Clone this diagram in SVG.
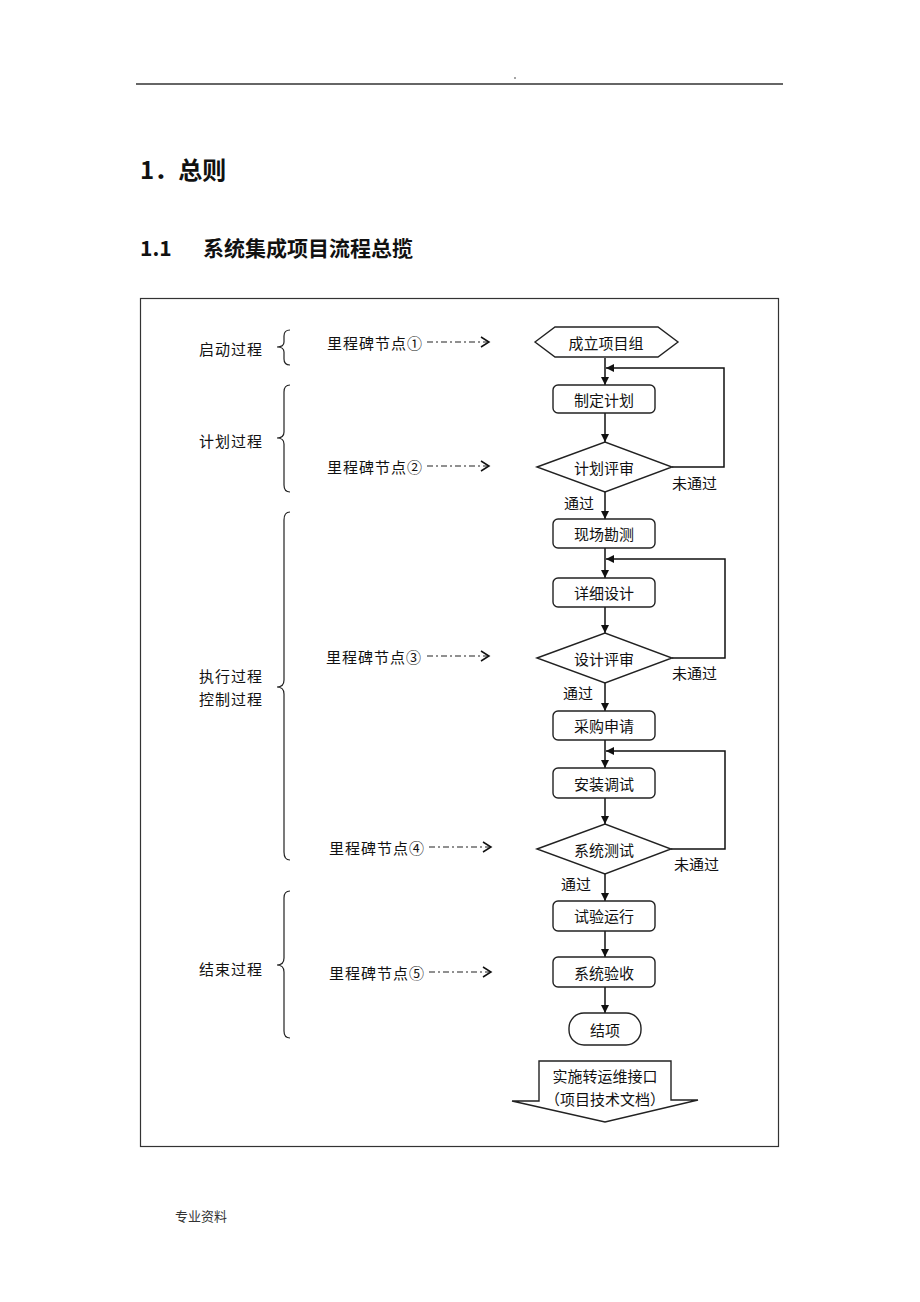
<svg xmlns="http://www.w3.org/2000/svg" width="920" height="1302" viewBox="0 0 920 1302">
<style>
text{font-family:"Noto Sans CJK SC","Noto Sans",sans-serif;fill:#111}
.t{font-size:15px;dominant-baseline:central}
.c{text-anchor:middle}
.shape{fill:#fff;stroke:#222;stroke-width:1.4}
.ln{fill:none;stroke:#111;stroke-width:1.5}
.br{fill:none;stroke:#222;stroke-width:1.2}
.dd{fill:none;stroke:#222;stroke-width:1.2;stroke-dasharray:6 3 2 3}
</style>
<defs>
<marker id="ah" viewBox="0 0 10 10" refX="10" refY="5" markerWidth="8" markerHeight="8" markerUnits="userSpaceOnUse" orient="auto"><path d="M0,0L10,5L0,10z" fill="#111"/></marker>
</defs>
<rect width="920" height="1302" fill="#fff"/>
<line x1="136" y1="84" x2="783" y2="84" stroke="#333" stroke-width="1.5"/>
<circle cx="515" cy="78" r="0.8" fill="#333"/>
<text x="140" y="179" style="font-size:24px;font-weight:bold">1．总则</text>
<text x="140" y="256" style="font-size:21px;font-weight:bold">1.1</text>
<text x="203" y="256" style="font-size:21px;font-weight:bold">系统集成项目流程总揽</text>
<rect x="140.5" y="298.5" width="638" height="848" fill="none" stroke="#333" stroke-width="1.2"/>

<g id="labels">
<text class="t" x="199" y="348" letter-spacing="1">启动过程</text>
<text class="t" x="199" y="440" letter-spacing="1">计划过程</text>
<text class="t" x="199" y="675" letter-spacing="1">执行过程</text>
<text class="t" x="199" y="698" letter-spacing="1">控制过程</text>
<text class="t" x="199" y="968" letter-spacing="1">结束过程</text>
<path class="br" d="M290,330 Q284,330 284,336 L284,342 Q284,347 277,347 Q284,347 284,352 L284,359 Q284,365 290,365"/>
<path class="br" d="M290,385 Q284,385 284,392 L284,432 Q284,438 277,438 Q284,438 284,444 L284,485 Q284,492 290,492"/>
<path class="br" d="M290,512 Q284,512 284,520 L284,680 Q284,687 277,687 Q284,687 284,694 L284,852 Q284,860 290,860"/>
<path class="br" d="M290,891 Q284,891 284,898 L284,958 Q284,965 277,965 Q284,965 284,972 L284,1031 Q284,1038 290,1038"/>
</g>

<g id="milestones">
<text class="t" x="327" y="342" letter-spacing="1">里程碑节点①</text>
<text class="t" x="327" y="466" letter-spacing="1">里程碑节点②</text>
<text class="t" x="326" y="656" letter-spacing="1">里程碑节点③</text>
<text class="t" x="329" y="847" letter-spacing="1">里程碑节点④</text>
<text class="t" x="329" y="972" letter-spacing="1">里程碑节点⑤</text>
<path class="dd" d="M427,342H488M427,466H488M427,656H488M429,847H490M429,972H490"/>
<path class="ln" d="M481,337L489,342L481,347M481,461L489,466L481,471M481,651L489,656L481,661M483,842L491,847L483,852M483,967L491,972L483,977" stroke-width="1.3"/>
</g>

<g id="connectors">
<path class="ln" marker-end="url(#ah)" d="M605,358V385"/>
<path class="ln" marker-end="url(#ah)" d="M605,413V442"/>
<path class="ln" marker-end="url(#ah)" d="M605,492V519"/>
<path class="ln" marker-end="url(#ah)" d="M605,548V578"/>
<path class="ln" marker-end="url(#ah)" d="M605,607V633"/>
<path class="ln" marker-end="url(#ah)" d="M605,683V711"/>
<path class="ln" marker-end="url(#ah)" d="M605,740V768"/>
<path class="ln" marker-end="url(#ah)" d="M605,798V824"/>
<path class="ln" marker-end="url(#ah)" d="M605,874V901"/>
<path class="ln" marker-end="url(#ah)" d="M605,931V957"/>
<path class="ln" marker-end="url(#ah)" d="M605,987V1013"/>
<path class="ln" marker-end="url(#ah)" d="M672,467H724V368H606"/>
<path class="ln" marker-end="url(#ah)" d="M672,658H725V559H606"/>
<path class="ln" marker-end="url(#ah)" d="M671,849H725V751H606"/>
<text class="t" x="672" y="482">未通过</text>
<text class="t" x="672" y="672">未通过</text>
<text class="t" x="674" y="863">未通过</text>
<text class="t" x="564" y="502">通过</text>
<text class="t" x="563" y="692">通过</text>
<text class="t" x="561" y="883">通过</text>
</g>

<g id="n-start"><path class="shape" d="M535,342L555,327H658L678,342L658,357H555Z"/><text class="t c" x="606" y="342">成立项目组</text></g>
<g id="n-plan"><rect class="shape" x="553" y="385" width="102" height="28" rx="5"/><text class="t c" x="604" y="399">制定计划</text></g>
<g id="n-planreview"><path class="shape" d="M537,467L605,442L672,467L605,492Z"/><text class="t c" x="604" y="467">计划评审</text></g>
<g id="n-survey"><rect class="shape" x="553" y="519" width="102" height="29" rx="5"/><text class="t c" x="604" y="533">现场勘测</text></g>
<g id="n-design"><rect class="shape" x="553" y="578" width="102" height="29" rx="5"/><text class="t c" x="604" y="592">详细设计</text></g>
<g id="n-designreview"><path class="shape" d="M537,658L605,633L672,658L605,683Z"/><text class="t c" x="604" y="658">设计评审</text></g>
<g id="n-purchase"><rect class="shape" x="553" y="711" width="102" height="29" rx="5"/><text class="t c" x="604" y="725">采购申请</text></g>
<g id="n-install"><rect class="shape" x="553" y="768" width="102" height="30" rx="5"/><text class="t c" x="604" y="783">安装调试</text></g>
<g id="n-systest"><path class="shape" d="M537,849L605,824L671,849L605,874Z"/><text class="t c" x="604" y="849">系统测试</text></g>
<g id="n-trial"><rect class="shape" x="553" y="901" width="102" height="30" rx="5"/><text class="t c" x="604" y="915">试验运行</text></g>
<g id="n-accept"><rect class="shape" x="553" y="957" width="102" height="30" rx="5"/><text class="t c" x="604" y="972">系统验收</text></g>
<g id="n-end"><rect class="shape" x="569" y="1013" width="72" height="32" rx="15"/><text class="t c" x="605" y="1029">结项</text></g>
<g id="n-handover"><path class="shape" d="M539,1061H671V1100H698L605,1122L512,1101H539Z"/><text class="t c" x="605" y="1075">实施转运维接口</text><text class="t c" x="605" y="1098">（项目技术文档）</text></g>

<text x="175" y="1221" style="font-size:13px;fill:#333">专业资料</text>
</svg>
